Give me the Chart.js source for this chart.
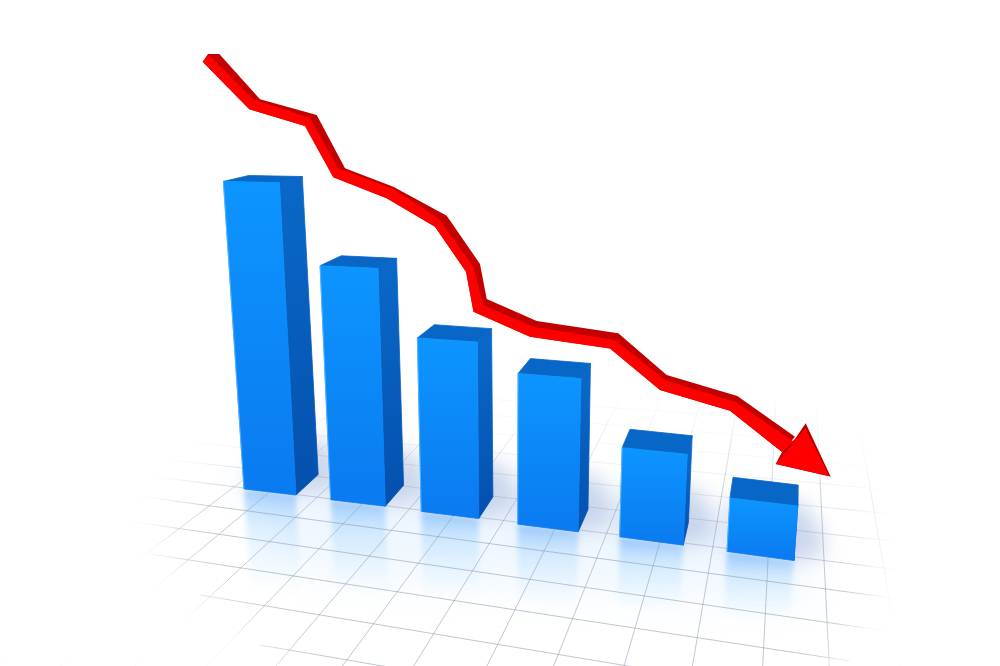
<!DOCTYPE html>
<html>
<head>
<meta charset="utf-8">
<script src="https://cdn.jsdelivr.net/npm/chart.js@4"></script>
<style>
  html, body { margin: 0; background: #fff; }
  canvas { display: block; }
</style>
</head>
<body>
<canvas id="chart" width="1000" height="666"></canvas>
<script>
// values are in picture units, y counted up from the bottom edge
const barX = [270, 358, 450, 548, 651.5, 760.5];
const barBase = [174, 163, 151, 138, 125, 110];
const barTop = [484, 399, 326, 290, 215, 164];

// the red ribbon: lower edge, edge between bright and dark, outer dark edge
const trendLowX = [202.7, 249.3, 305, 333.3, 386.7, 435, 466, 473.5, 530, 610, 660, 730, 781.7];
const trendLowY = [604.3, 556.7, 540, 488.7, 467.7, 439.3, 394.3, 354.3, 329.3, 317.5, 276, 255.3, 214.3];
const trendMidX = [209, 253.3, 310, 338, 393.3, 438.3, 473.3, 483.3, 533.3, 615, 665, 735, 794];
const trendMidY = [611, 566.7, 548, 497.7, 477, 447.7, 399.3, 361, 339.3, 326, 286, 264.3, 224.3];
const trendTopX = [208, 219.3, 260, 316.7, 345, 393.3, 446.7, 480, 486.7, 536.7, 618.3, 666.7, 737.3, 795];
const trendTopY = [612, 612, 566.7, 551, 497.7, 479.3, 450.3, 402, 367, 345, 332.7, 291, 270, 229.3];

const headX = [775.7, 783.3, 794, 805, 829.3];
const headY = [202, 211, 224.3, 237.7, 190];
const headEdgeX = [775.7, 782.7, 795, 805.7, 830.7];
const headEdgeY = [202, 215.3, 227, 242.7, 189.3];

// floor grid: [x0, y0, x1, y1], y counted down on the floor axis
const floorRows = [
  [400, 393, 860, 425], [300, 400, 900, 448], [200, 408, 900, 469],
  [100, 415, 900, 491], [100, 433, 900, 515], [100, 452, 900, 542],
  [100, 470, 900, 570], [100, 491, 900, 599], [100, 517, 900, 633],
  [150, 554, 850, 661], [200, 595, 640, 668], [260, 645, 400, 669],
];
const floorColumns = [
  [349, 400, -21, 680], [380, 400, 44, 680], [422, 400, 120, 680],
  [462, 400, 193, 680], [502, 400, 264, 680], [539, 400, 332, 680],
  [578, 400, 405, 680], [619, 400, 480, 680], [660, 400, 548, 680],
  [701, 400, 620, 680], [738, 400, 690, 680], [776, 400, 762, 680],
  [816, 400, 830, 680], [855, 400, 903, 680],
];

const lean = (x) => (510 - x) * 0.00025;
const tilt = (y) => 0.02 + (y - 182) * 0.00031;
const depth = (p) => [p[0] + 0.044 * (800 - p[0]), p[1] - (6 + 0.0464 * (p[1] - 182))];

function barCorners(bar) {
  const w = 52 + (bar.x - 270) * 0.0305;
  const h = bar.base - bar.y;
  const bl = [bar.x - w / 2, bar.base - (tilt(bar.base) * w) / 2];
  const br = [bar.x + w / 2, bar.base + (tilt(bar.base) * w) / 2];
  const tlx = bl[0] - lean(bl[0]) * h;
  const trx = br[0] - lean(br[0]) * h;
  const tl = [tlx, bar.y - (tilt(bar.y) * (trx - tlx)) / 2];
  const tr = [trx, bar.y + (tilt(bar.y) * (trx - tlx)) / 2];
  return { bl, br, tl, tr };
}

function fillPoly(ctx, pts, style, seam) {
  ctx.beginPath();
  pts.forEach((p, i) => (i ? ctx.lineTo(p[0], p[1]) : ctx.moveTo(p[0], p[1])));
  ctx.closePath();
  ctx.fillStyle = style;
  ctx.fill();
  if (seam) {
    ctx.strokeStyle = style;
    ctx.lineWidth = 0.8;
    ctx.stroke();
  }
}

function vGradient(ctx, y0, y1, c0, c1) {
  const g = ctx.createLinearGradient(0, y0, 0, y1);
  g.addColorStop(0, c0);
  g.addColorStop(1, c1);
  return g;
}

const bars3d = {
  id: "bars3d",
  // reflections and soft shadows sit under the grid
  beforeDatasetsDraw(chart) {
    const ctx = chart.ctx;
    const bars = chart.getDatasetMeta(0).data;
    ctx.save();
    ctx.filter = "blur(22px)";
    fillPoly(ctx, [[240, 470], [800, 530], [810, 600], [300, 570]], "rgba(170,210,250,0.2)");
    bars.forEach((bar) => {
      const c = barCorners(bar);
      const backL = depth(c.bl);
      const backR = depth(c.br);
      ctx.filter = "blur(10px)";
      fillPoly(ctx, [c.bl, c.br, [c.br[0] + 32, c.br[1] - 6], [backR[0] + 26, backR[1] - 6], [backR[0] + 10, backR[1] - 34], [backL[0], backL[1] - 30]],
        "rgba(95,130,195,0.3)");
      ctx.filter = "blur(2.5px)";
      const drop = 55 + (bar.base - bar.y) * 0.15;
      const low = [
        [c.br[0] + lean(c.br[0]) * drop, c.br[1] + drop],
        [c.bl[0] + lean(c.bl[0]) * drop, c.bl[1] + drop],
      ];
      const g = ctx.createLinearGradient(0, c.br[1] - 6, 0, c.br[1] + drop);
      g.addColorStop(0, "rgba(70,160,255,0.45)");
      g.addColorStop(0.35, "rgba(125,195,255,0.24)");
      g.addColorStop(1, "rgba(170,225,255,0)");
      fillPoly(ctx, [c.bl, c.br, low[0], low[1]], g);
    });
    ctx.filter = "none";
    ctx.restore();
  },
  beforeDatasetDraw(chart, args) {
    if (chart.data.datasets[args.index].type !== "bar") return;
    const ctx = chart.ctx;
    ctx.save();
    // the floor dissolves into white at its far corners
    ctx.filter = "blur(24px)";
    fillPoly(ctx, [[-60, 330], [310, 390], [250, 435], [200, 475], [165, 520], [175, 565], [245, 625], [310, 690], [-60, 700]], "#fff");
    ctx.filter = "blur(18px)";
    fillPoly(ctx, [[1060, 380], [780, 380], [835, 440], [865, 480], [870, 590], [815, 690], [1060, 700]], "#fff");
    ctx.filter = "none";
    args.meta.data.forEach((bar) => {
      const c = barCorners(bar);
      fillPoly(ctx, [c.br, c.tr, depth(c.tr), depth(c.br)],
        vGradient(ctx, c.tr[1], c.br[1], "#0a68c8", "#0450ae"), true);
      fillPoly(ctx, [c.tl, c.tr, depth(c.tr), depth(c.tl)], "#0866c6", true);
      fillPoly(ctx, [c.bl, c.br, c.tr, c.tl],
        vGradient(ctx, c.tl[1], c.br[1], "#0d95ff", "#0a7af0"), true);
      ctx.beginPath();
      ctx.moveTo(c.tl[0], c.tl[1]);
      ctx.lineTo(c.bl[0], c.bl[1]);
      ctx.strokeStyle = "rgba(90,185,255,0.8)";
      ctx.lineWidth = 1;
      ctx.stroke();
    });
    ctx.restore();
    return false;
  },
};

const gridCtx = document.getElementById("chart").getContext("2d");

function rowColor(r) {
  const top = Math.min(1, Math.max(0.1, (r[1] + r[3] - 850) / 240));
  return `rgba(135,148,162,${(0.52 * top).toFixed(3)})`;
}

function columnColor() {
  const g = gridCtx.createLinearGradient(0, 400, 0, 680);
  g.addColorStop(0, "rgba(135,148,162,0.03)");
  g.addColorStop(0.38, "rgba(135,148,162,0.48)");
  g.addColorStop(1, "rgba(135,148,162,0.52)");
  return g;
}

function floorLine(l, color) {
  return {
    type: "line",
    yAxisID: "floor",
    order: 10,
    data: [{ x: l[0], y: l[1] }, { x: l[2], y: l[3] }],
    borderColor: color,
    borderWidth: 1,
    pointRadius: 0,
  };
}

function shape(label, order, xs, ys, color) {
  return {
    type: "line",
    label: label,
    order: order,
    data: xs.map((x, i) => ({ x: x, y: ys[i] })),
    borderWidth: 0,
    borderColor: color,
    backgroundColor: color,
    fill: "shape",
    pointRadius: 0,
  };
}

new Chart(gridCtx, {
  data: {
    datasets: [
      {
        type: "bar",
        label: "Bars",
        order: 5,
        barThickness: 56,
        backgroundColor: "#0d95ff",
        data: barX.map((x, i) => ({ x: x, y: [barBase[i], barTop[i]] })),
      },
      shape("Trend edge", 4, trendTopX.concat(trendLowX.slice().reverse()), trendTopY.concat(trendLowY.slice().reverse()), "#c20000"),
      shape("Head edge", 3, headEdgeX, headEdgeY, "#b80000"),
      shape("Trend", 2, trendMidX.concat(trendLowX.slice().reverse()), trendMidY.concat(trendLowY.slice().reverse()), "#ff0000"),
      shape("Head", 1, headX, headY, "#ff0000"),
      ...floorRows.map((r) => floorLine(r, rowColor(r))),
      ...floorColumns.map((c) => floorLine(c, columnColor())),
    ],
  },
  options: {
    responsive: false,
    animation: false,
    devicePixelRatio: 1,
    layout: { padding: 0 },
    plugins: { legend: { display: false }, tooltip: { enabled: false } },
    scales: {
      x: { type: "linear", min: 0, max: 1000, display: false, offset: false },
      y: { type: "linear", min: 0, max: 666, display: false },
      floor: { type: "linear", min: 0, max: 666, reverse: true, display: false },
    },
  },
  plugins: [bars3d],
});
</script>
</body>
</html>
